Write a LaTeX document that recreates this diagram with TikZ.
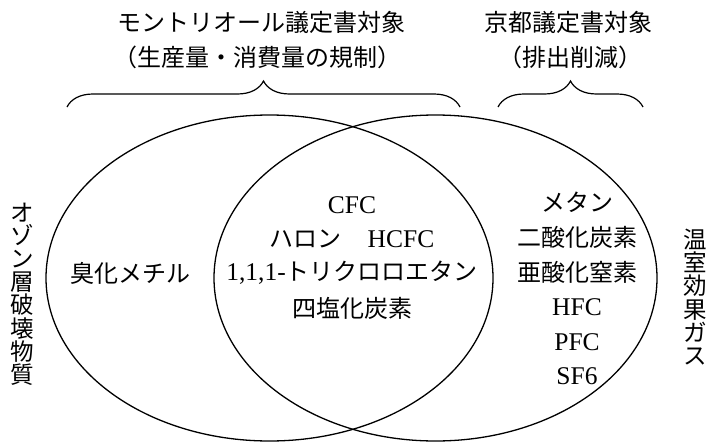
\documentclass[tikz,border=0pt]{standalone}
\usepackage{fontspec}
\setmainfont{Liberation Serif}
\newfontfamily\cjk{Noto Sans CJK JP}
\usetikzlibrary{shapes.geometric,decorations.pathreplacing}
\newcommand\jt[1]{{\cjk\fontsize{24}{24}\selectfont #1}}
\tikzset{
  setbox/.style={ellipse,draw,line width=1.3pt,inner sep=0pt},
  jp/.style={font=\cjk\fontsize{24}{24}\selectfont,inner sep=0pt},
  lat/.style={font=\fontsize{25.5}{25.5}\selectfont,inner sep=0pt},
  vtext/.style={font=\cjk\fontsize{23.5}{23.2}\selectfont,align=center,inner sep=0pt},
  bracestyle/.style={draw,line width=1.2pt,decorate,decoration={brace,amplitude=26pt}}
}
\begin{document}
\begin{tikzpicture}[x=1pt,y=-1pt]
\useasboundingbox (0,0) rectangle (706,444);
% sets
\node[setbox,minimum width=447pt,minimum height=326pt] (L) at (269.5,278) {};
\node[setbox,minimum width=443pt,minimum height=326pt] (R) at (435.5,278) {};
% top labels
\node[jp] (mt1) at (261,22) {モントリオール議定書対象};
\node[jp] (mt2) at (257,57) {（生産量・消費量の規制）};
\node[jp] (ky1) at (568,22) {京都議定書対象};
\node[jp] (ky2) at (570,57) {（排出削減）};
% braces
\coordinate (b1s) at (67,107);
\coordinate (b1e) at (460,107);
\coordinate (b2s) at (498,107);
\coordinate (b2e) at (643,107);
\path[bracestyle] (b1s) -- (b1e);
\path[bracestyle] (b2s) -- (b2e);
% side labels
\node[vtext] (oz) at (22,294) {オ\\ゾ\\ン\\層\\破\\壊\\物\\質};
\node[vtext] (gh) at (695,297) {温\\室\\効\\果\\ガ\\ス};
% left only
\node[jp] (mb) at (130,273) {臭化メチル};
% intersection
\node[lat] (c1) at (352,205) {CFC};
\node[lat] (c2) at (352,239) {\jt{ハロン}\hspace{26pt}HCFC};
\node[lat] (c3) at (352,273) {1,1,1-\jt{トリクロロエタン}};
\node[jp] (c4) at (352,308) {四塩化炭素};
% right only
\node[jp] (r1) at (577,202) {メタン};
\node[jp] (r2) at (577,237) {二酸化炭素};
\node[jp] (r3) at (577,272) {亜酸化窒素};
\node[lat] (r4) at (577,307) {HFC};
\node[lat] (r5) at (577,342) {PFC};
\node[lat] (r6) at (577,376) {SF6};
\end{tikzpicture}
\end{document}
